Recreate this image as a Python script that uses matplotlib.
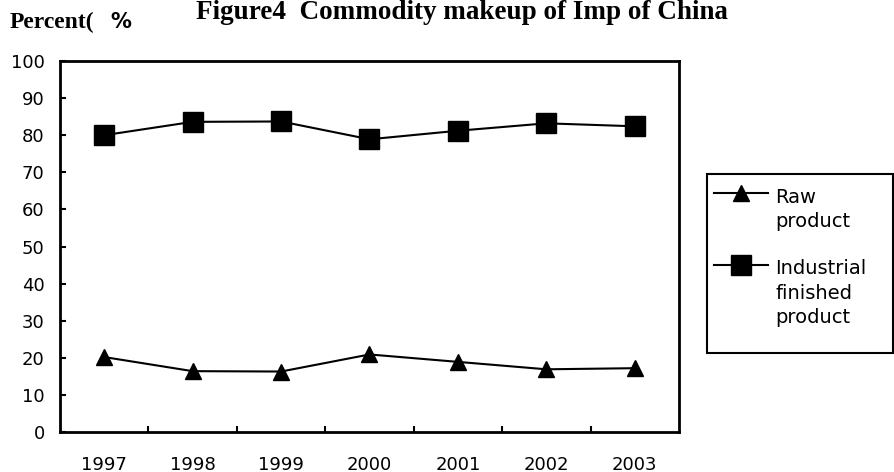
import matplotlib
matplotlib.use("Agg")
import matplotlib.pyplot as plt
from matplotlib.patches import Rectangle
import numpy as np

years = ["1997", "1998", "1999", "2000", "2001", "2002", "2003"]
raw_product = [20.2, 16.4, 16.3, 20.9, 18.9, 16.9, 17.2]
industrial_product = [80.0, 83.6, 83.7, 78.9, 81.2, 83.2, 82.4]
series_labels = ["Raw\nproduct", "Industrial\nfinished\nproduct"]

fig = plt.figure(figsize=(8.95, 4.72), dpi=100)
W, H = 895, 472
# axes box in pixels: left 60, right 679, top 61, bottom 432
ax = fig.add_axes([60 / W, 1 - 432 / H, (679 - 60) / W, (432 - 61) / H])

x = np.arange(len(years))
ax.plot(x, raw_product, color="black", lw=1.5, marker="^", ms=12,
        label=series_labels[0])
ax.plot(x, industrial_product, color="black", lw=1.5, marker="s", ms=14,
        label=series_labels[1])

ax.set_xlim(-0.5, len(years) - 0.5)
ax.set_ylim(0, 100)
ax.set_yticks(range(0, 101, 10))
ax.set_xticks(x)
ax.set_xticklabels(years)
# category boundary ticks, drawn inside
ax.set_xticks(np.arange(0.5, len(years) - 1, 1.0), minor=True)
ax.tick_params(axis="x", which="major", length=0, pad=17, labelsize=13)
ax.tick_params(axis="x", which="minor", direction="in", length=4, width=1.5)
ax.tick_params(axis="y", direction="in", length=4, width=1.5, labelsize=13, pad=11)
for s in ax.spines.values():
    s.set_linewidth(2)

# legend box drawn separately so its size can match
fig.patches.append(Rectangle((707 / W, 1 - 353 / H), (893 - 707) / W, (353 - 174) / H,
                             fill=False, lw=1.5, edgecolor="black",
                             transform=fig.transFigure))
leg = fig.legend(loc="upper left", bbox_to_anchor=(714 / W, 1 - 188 / H),
                 frameon=False, fontsize=14, handlelength=2.8, handletextpad=0.35,
                 borderpad=0, labelspacing=1.45, borderaxespad=0)
for t in leg.get_texts():
    t.set_linespacing(1.35)
# put each handle level with the first line of its label (points, up)
for h, dy in zip(leg.legend_handles, [12.5, 20.5]):
    h.set_ydata(np.asarray(h.get_ydata()) + dy)

fig.text(462 / W, 1 - 19 / H, "Figure4  Commodity makeup of Imp of China",
         ha="center", va="baseline", fontsize=19.5, fontweight="bold",
         family="Liberation Serif")
fig.text(10 / W, 1 - 28 / H, "Percent(", ha="left", va="baseline",
         fontsize=17, fontweight="bold", family="Liberation Serif")
fig.text(110 / W, 1 - 28 / H, "%", ha="left", va="baseline",
         fontsize=15, fontweight="bold", family="DejaVu Sans")

fig.savefig("out.png", dpi=100)
